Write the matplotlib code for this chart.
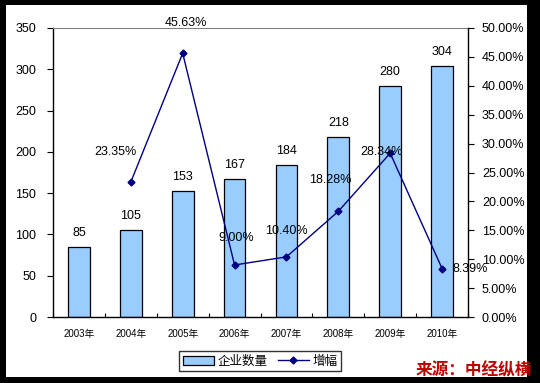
import matplotlib.pyplot as plt
from matplotlib.patches import Rectangle
from matplotlib.ticker import FuncFormatter, MultipleLocator

# Data
years = ["2003年", "2004年", "2005年", "2006年", "2007年", "2008年", "2009年", "2010年"]
companies = [85, 105, 153, 167, 184, 218, 280, 304]
growth_years = [1, 2, 3, 4, 5, 6, 7]  # index into years
growth = [23.35, 45.63, 9.00, 10.40, 18.28, 28.34, 8.39]

# label offsets in pixels (x, y) for the growth labels
growth_label_offsets = [(-15, 30), (3, 30), (2, 27), (0, 26), (-8, 31), (-9, 1), (28, 0)]

BAR_COLOR = "#99CCFF"
LINE_COLOR = "#000080"

plt.rcParams["font.family"] = ["Liberation Sans", "Noto Sans CJK SC", "DejaVu Sans"]

fig = plt.figure(figsize=(5.4, 3.83), dpi=100)
fig.patch.set_facecolor("black")
# white inner panel inside the black frame
fig.add_artist(Rectangle((6 / 540, 1 - 377 / 383), 521 / 540, 372 / 383,
                         transform=fig.transFigure, facecolor="white",
                         edgecolor="none", zorder=0))

ax = fig.add_axes([53 / 540, 1 - 317 / 383, 415 / 540, 289 / 383])
ax.set_facecolor("white")
x = list(range(len(years)))
bars = ax.bar(x, companies, width=0.42, color=BAR_COLOR, edgecolor="black",
              linewidth=0.9, label="企业数量", zorder=2)
for xi, v in zip(x, companies):
    ax.annotate(str(v), (xi, v), xytext=(0, 14), textcoords="offset pixels",
                ha="center", va="center", fontsize=9)

ax.set_xlim(-0.5, len(years) - 0.5)
ax.set_ylim(0, 350)
ax.yaxis.set_major_locator(MultipleLocator(50))
ax.set_xticks(x)
ax.set_xticklabels(years, fontsize=7)
ax.set_xticks([i + 0.5 for i in range(-1, len(years))], minor=True)
ax.tick_params(axis="x", which="major", length=0, pad=9)
ax.tick_params(axis="x", which="minor", direction="in", length=3, width=0.8)
ax.tick_params(axis="y", direction="out", length=4, width=0.8, labelsize=9, pad=8)
ax.spines["top"].set_color("#808080")
ax.spines["right"].set_visible(False)
for s in ("left", "bottom"):
    ax.spines[s].set_linewidth(1.0)

ax2 = ax.twinx()
line, = ax2.plot(growth_years, growth, color=LINE_COLOR, linewidth=1.0,
                 marker="D", markersize=3.5, label="增幅", zorder=3)
for xi, v, (dx, dy) in zip(growth_years, growth, growth_label_offsets):
    ax2.annotate(f"{v:.2f}%", (xi, v), xytext=(dx, dy), textcoords="offset pixels",
                 ha="center", va="center", fontsize=9)
ax2.set_ylim(0, 50)
ax2.yaxis.set_major_locator(MultipleLocator(5))
ax2.yaxis.set_major_formatter(FuncFormatter(lambda v, p: f"{v:.2f}%"))
ax2.tick_params(axis="y", direction="out", length=4, width=0.8, labelsize=9, pad=6)
ax2.spines["top"].set_visible(False)
ax2.spines["left"].set_visible(False)
ax2.spines["bottom"].set_visible(False)
ax2.spines["right"].set_linewidth(1.0)

leg = fig.legend([bars, line], ["企业数量", "增幅"], loc="center",
                 bbox_to_anchor=(260 / 540, 1 - 361 / 383), ncol=2, fontsize=9,
                 frameon=True, fancybox=False, edgecolor="black",
                 handlelength=2.5, handletextpad=0.3, columnspacing=0.8,
                 borderpad=0.3, prop={"family": ["Noto Sans CJK SC"], "size": 9})
leg.get_frame().set_linewidth(1.0)

fig.text(474 / 540, 1 - 370 / 383, "来源：中经纵横", color="#C00000",
         fontsize=12, fontweight="bold", ha="center", va="center",
         family=["Noto Sans CJK SC"])

fig.savefig("out.png", dpi=100, facecolor=fig.get_facecolor())
